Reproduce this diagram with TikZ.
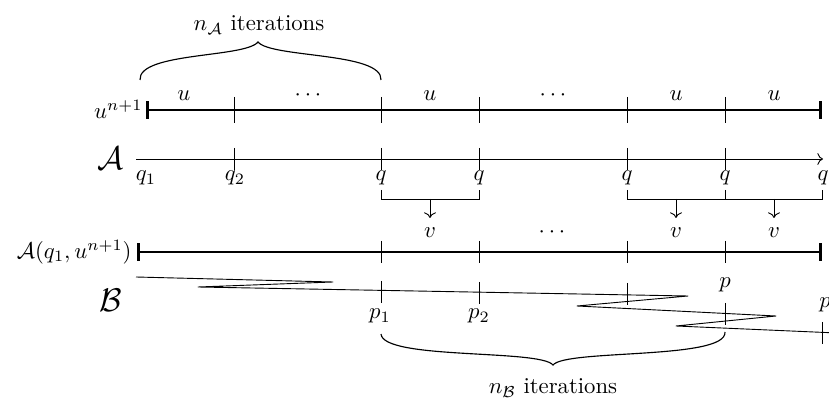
\documentclass[tikz,border=0pt]{standalone}
\usetikzlibrary{arrows.meta}
\begin{document}
\begin{tikzpicture}[x=0.44pt,y=-0.44pt,
  mainline/.style={line width=0.9pt},
  thinline/.style={line width=0.4pt},
  tickmark/.style={line width=0.4pt},
  barends/.style={{Bar[width=7.5pt,line width=1.2pt]}-{Bar[width=7.5pt,line width=1.2pt]}},
  lab/.style={inner sep=0pt,anchor=base},
  bigcal/.style={inner sep=0pt,font=\Large},
  bracecurve/.style={line width=0.5pt},
  downarrow/.style={thinline,->}
]
\useasboundingbox (0,0) rectangle (829,401);

% ---------- top row: u^{n+1}
\coordinate (T0) at (146,110);
\coordinate (T1) at (234,110);
\coordinate (T2) at (381,110);
\coordinate (T3) at (479,110);
\coordinate (T4) at (627,110);
\coordinate (T5) at (725,110);
\coordinate (T6) at (822,110);
\draw[mainline,barends] (T0) -- (T6);
\foreach \i in {1,...,5} \draw[tickmark] (T\i) ++(0,-13) -- ++(0,26);
\node[inner sep=0pt,anchor=east] (un) at (143,109) {$u^{n+1}$};
\node[lab] (u1) at (184,101) {$u$};
\node[lab] (d1) at (308,101) {$\cdots$};
\node[lab] (u2) at (430,101) {$u$};
\node[lab] (d2) at (553,101) {$\cdots$};
\node[lab] (u3) at (676,101) {$u$};
\node[lab] (u4) at (774,101) {$u$};

% top brace
\coordinate (BA1) at (140,80);
\coordinate (BAt) at (258,42);
\coordinate (BA2) at (381,80);
\draw[bracecurve] (BA1) .. controls (138,52) and (245,58) .. (BAt)
                        .. controls (271,58) and (383,52) .. (BA2);
\node (nA) at (259,25) {$n_{\mathcal A}$ iterations};

% ---------- A row
\coordinate (A0) at (136,159);
\coordinate (A1) at (234,159);
\coordinate (A2) at (381,159);
\coordinate (A3) at (479,159);
\coordinate (A4) at (627,159);
\coordinate (A5) at (725,159);
\coordinate (A6) at (823,159);
\draw[thinline,->] (A0) -- (A6);
\foreach \i in {1,...,5} \draw[tickmark] (A\i) ++(0,-11) -- ++(0,22);
\node[bigcal] (Alab) at (111,158) {$\mathcal{A}$};
\node[inner sep=0pt] (q1) at (146,178) {$q_1$};
\node[inner sep=0pt] (q2) at (235,178) {$q_2$};
\node[inner sep=0pt] (qa) at (381,178) {$q$};
\node[inner sep=0pt] (qb) at (479,178) {$q$};
\node[inner sep=0pt] (qc) at (627,178) {$q$};
\node[inner sep=0pt] (qd) at (725,178) {$q$};
\node[inner sep=0pt] (qe) at (823,178) {$q$};

% brackets with arrows
\coordinate (K1) at (381,190);
\coordinate (K2) at (479,190);
\coordinate (K3) at (627,190);
\coordinate (K4) at (725,190);
\coordinate (K5) at (822,190);
\draw[thinline] (K1) -- ++(0,9) -| (K2);
\draw[thinline] (K3) -- ++(0,9) -| (K5);
\draw[thinline] (K4) -- ++(0,9);
\node[lab] (v1) at (430,238) {$v$};
\node[lab] (d3) at (552,238) {$\cdots$};
\node[lab] (v2) at (676,238) {$v$};
\node[lab] (v3) at (774,238) {$v$};
\coordinate (M1) at (430,199);
\coordinate (M2) at (676,199);
\coordinate (M3) at (774,199);
\coordinate (E1) at (430,218);
\coordinate (E2) at (676,218);
\coordinate (E3) at (774,218);
\draw[downarrow] (M1) -- (E1);
\draw[downarrow] (M2) -- (E2);
\draw[downarrow] (M3) -- (E3);

% ---------- A(q1,u^{n+1}) row
\coordinate (C0) at (137,252);
\coordinate (C2) at (381,252);
\coordinate (C3) at (479,252);
\coordinate (C4) at (627,252);
\coordinate (C5) at (725,252);
\coordinate (C6) at (822,252);
\draw[mainline,barends] (C0) -- (C6);
\foreach \i in {2,...,5} \draw[tickmark] (C\i) ++(0,-11) -- ++(0,22);
\node[inner sep=0pt,anchor=east] (Aq) at (132,252) {$\mathcal{A}(q_1,u^{n+1})$};

% ---------- B row
\node[bigcal] (Blab) at (111,300) {$\mathcal{B}$};
\coordinate (Z0) at (136,277);
\coordinate (Z1) at (333,282);
\coordinate (Z2) at (198,287);
\coordinate (Z3) at (688,296);
\coordinate (Z4) at (577,306);
\coordinate (Z5) at (776,316);
\coordinate (Z6) at (676,326);
\coordinate (Z7) at (860,334);
\draw[thinline,line join=round] (Z0) -- (Z1) -- (Z2) -- (Z3) -- (Z4)
  -- (Z5) -- (Z6) -- (Z7);
\coordinate (P1) at (381,292);
\coordinate (P2) at (479,293);
\coordinate (P3) at (627,294);
\coordinate (P4) at (725,314);
\coordinate (P5) at (822,333);
\foreach \i in {1,...,5} \draw[tickmark] (P\i) ++(0,-11) -- ++(0,22);
\node[inner sep=0pt] (p1) at (380,316) {$p_1$};
\node[inner sep=0pt] (p2) at (479,316) {$p_2$};
\node[inner sep=0pt] (pa) at (725,285) {$p$};
\node[inner sep=0pt] (pb) at (825,305) {$p$};

% bottom brace
\coordinate (BB1) at (381,334);
\coordinate (BBt) at (553,365);
\coordinate (BB2) at (725,332);
\draw[bracecurve] (BB1) .. controls (383,360) and (540,349) .. (BBt)
                        .. controls (566,349) and (727,360) .. (BB2);
\node (nB) at (553,388) {$n_{\mathcal B}$ iterations};
\end{tikzpicture}
\end{document}
